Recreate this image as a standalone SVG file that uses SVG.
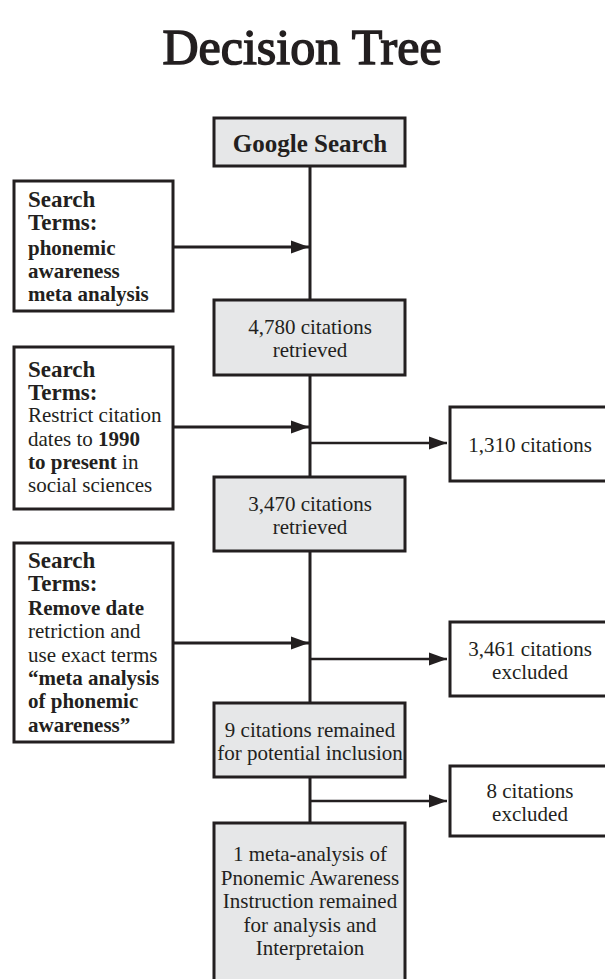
<svg xmlns="http://www.w3.org/2000/svg" width="605" height="979" viewBox="0 0 605 979">
<defs>
<style>
text{font-family:"Liberation Serif","Times New Roman",serif;fill:#231f20}
.title{font-size:50px;text-anchor:middle;stroke:#231f20;stroke-width:1.5}
.hd{font-size:23px;font-weight:bold}
.b{font-weight:bold}
.t{font-size:21px}
.c{text-anchor:middle}
.box{fill:#fff;stroke:#231f20;stroke-width:3}
.gbox{fill:#e6e7e8;stroke:#231f20;stroke-width:3}
.ln{stroke:#231f20;stroke-width:3;fill:none}
.br{stroke:#231f20;stroke-width:2.5;fill:none}
</style>
<marker id="ah" markerUnits="userSpaceOnUse" markerWidth="18" markerHeight="14" refX="18" refY="7" orient="auto"><path d="M0,0.5 L18,7 L0,13.5 z" fill="#231f20"/></marker>
</defs>
<rect width="605" height="979" fill="#fff"/>
<text class="title" x="302" y="64">Decision Tree</text>

<g id="connectors">
<line class="ln" x1="310" y1="166" x2="310" y2="300"/>
<line class="ln" x1="310" y1="375" x2="310" y2="477"/>
<line class="ln" x1="310" y1="551" x2="310" y2="703"/>
<line class="ln" x1="310" y1="777" x2="310" y2="823"/>
<line class="ln" x1="173" y1="247" x2="309" y2="247" marker-end="url(#ah)"/>
<line class="ln" x1="173" y1="427" x2="309" y2="427" marker-end="url(#ah)"/>
<line class="ln" x1="173" y1="643" x2="309" y2="643" marker-end="url(#ah)"/>
<line class="br" x1="310" y1="443" x2="447" y2="443" marker-end="url(#ah)"/>
<line class="br" x1="310" y1="659" x2="447" y2="659" marker-end="url(#ah)"/>
<line class="br" x1="310" y1="801" x2="447" y2="801" marker-end="url(#ah)"/>
</g>

<g id="google">
<rect class="gbox" x="214" y="118" width="191" height="48"/>
<text class="c b" x="310" y="152" font-size="25">Google Search</text>
</g>

<g id="terms1">
<rect class="box" x="14" y="181" width="159" height="130"/>
<text class="hd" x="28" y="207">Search</text>
<text class="hd" x="28" y="230">Terms:</text>
<text class="t b" x="28" y="255">phonemic</text>
<text class="t b" x="28" y="278">awareness</text>
<text class="t b" x="28" y="301">meta analysis</text>
</g>

<g id="c4780">
<rect class="gbox" x="214" y="300" width="191" height="75"/>
<text class="t c" x="310" y="334">4,780 citations</text>
<text class="t c" x="310" y="357">retrieved</text>
</g>

<g id="terms2">
<rect class="box" x="14" y="347" width="159" height="162"/>
<text class="hd" x="28" y="377">Search</text>
<text class="hd" x="28" y="400">Terms:</text>
<text class="t" x="28" y="422">Restrict citation</text>
<text class="t" x="28" y="446">dates to <tspan class="b">1990</tspan></text>
<text class="t" x="28" y="469"><tspan class="b">to present</tspan> in</text>
<text class="t" x="28" y="492">social sciences</text>
</g>

<g id="c1310">
<rect class="box" x="450" y="407" width="160" height="74"/>
<text class="t c" x="530" y="452">1,310 citations</text>
</g>

<g id="c3470">
<rect class="gbox" x="214" y="477" width="191" height="74"/>
<text class="t c" x="310" y="511">3,470 citations</text>
<text class="t c" x="310" y="534">retrieved</text>
</g>

<g id="terms3">
<rect class="box" x="14" y="543" width="159" height="199"/>
<text class="hd" x="28" y="568">Search</text>
<text class="hd" x="28" y="591">Terms:</text>
<text class="t b" x="28" y="615">Remove date</text>
<text class="t" x="28" y="638">retriction and</text>
<text class="t" x="28" y="662">use exact terms</text>
<text class="t b" x="28" y="685">“meta analysis</text>
<text class="t b" x="28" y="708">of phonemic</text>
<text class="t b" x="28" y="732">awareness”</text>
</g>

<g id="c3461">
<rect class="box" x="450" y="622" width="160" height="74"/>
<text class="t c" x="530" y="656">3,461 citations</text>
<text class="t c" x="530" y="679">excluded</text>
</g>

<g id="c9">
<rect class="gbox" x="214" y="703" width="191" height="74"/>
<text class="t c" x="310" y="737">9 citations remained</text>
<text class="t c" x="310" y="760">for potential inclusion</text>
</g>

<g id="c8">
<rect class="box" x="450" y="766" width="160" height="70"/>
<text class="t c" x="530" y="798">8 citations</text>
<text class="t c" x="530" y="821">excluded</text>
</g>

<g id="final">
<rect class="gbox" x="214" y="823" width="191" height="170"/>
<text class="t c" x="310" y="861">1 meta-analysis of</text>
<text class="t c" x="310" y="885">Pnonemic Awareness</text>
<text class="t c" x="310" y="908">Instruction remained</text>
<text class="t c" x="310" y="932">for analysis and</text>
<text class="t c" x="310" y="955">Interpretaion</text>
</g>
</svg>
